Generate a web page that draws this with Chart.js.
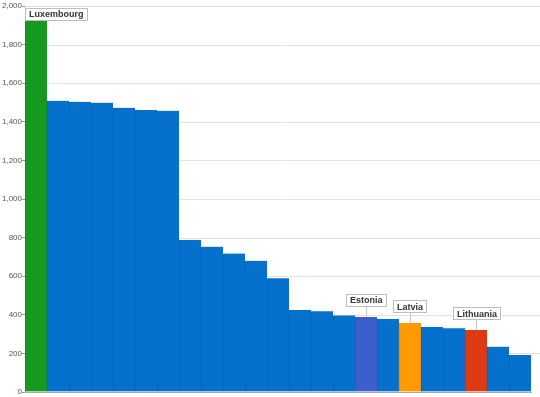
<!DOCTYPE html>
<html>
<head>
<meta charset="utf-8">
<script src="https://cdn.jsdelivr.net/npm/chart.js@4/dist/chart.umd.min.js"></script>
<style>
  html, body { margin:0; padding:0; background:#fff; }
  #wrap { width:540px; height:397px; position:relative; }
</style>
</head>
<body>
<div id="wrap"><canvas id="chart"></canvas></div>
<script>
/* ===== DATA ===== */
const countries = ['Luxembourg','Ireland','Netherlands','Belgium','Germany','France','United Kingdom',
  'Slovenia','Spain','Malta','Greece','Portugal','Poland','Croatia','Slovakia','Estonia',
  'Hungary','Latvia','Czech Republic','Turkey','Lithuania','Romania','Bulgaria'];
const values = [1922,1509,1504,1499,1473,1461,1457,
  788,753,717,680,589,425,418,397,389,
  378,357,337,330,321,235,192];
const highlighted = ['Luxembourg','Estonia','Latvia','Lithuania'];
const yTicks = [0,200,400,600,800,1000,1200,1400,1600,1800,2000];

/* ===== COLORS ===== */
const BLUE = '#0671cc', BLUE_EDGE = '#0462b3';
const special = { Luxembourg:'#16991f', Estonia:'#3d5fca', Latvia:'#ff9a00', Lithuania:'#dc3a14' };
const specialEdge = { Luxembourg:'#138a1b', Estonia:'#3754b5', Latvia:'#e88c00', Lithuania:'#c63312' };
const barColors = countries.map(c => special[c] || BLUE);
const edgeColors = countries.map(c => specialEdge[c] || BLUE_EDGE);

/* ===== PLUGINS ===== */
// horizontal grid, running from the axis to the right edge of the canvas
const gridFull = {
  id: 'gridFull',
  beforeDatasetsDraw(chart) {
    const { ctx, chartArea, scales: { y } } = chart;
    ctx.save();
    ctx.strokeStyle = '#e2e2e2';
    ctx.lineWidth = 1;
    yTicks.forEach(v => {
      if (v === 0) return;
      const py = Math.round(y.getPixelForValue(v)) + 0.5;
      ctx.beginPath();
      ctx.moveTo(chartArea.left, py);
      ctx.lineTo(chart.width, py);
      ctx.stroke();
    });
    ctx.restore();
  }
};

// callout labels above highlighted bars
const callouts = {
  id: 'callouts',
  afterDatasetsDraw(chart) {
    const { ctx, chartArea } = chart;
    const meta = chart.getDatasetMeta(0);
    ctx.save();
    ctx.font = 'bold 9px "Liberation Sans", Arial, sans-serif';
    ctx.textBaseline = 'middle';
    highlighted.forEach(name => {
      const i = countries.indexOf(name);
      const bar = meta.data[i];
      const tw = ctx.measureText(name).width;
      const bw = tw + 7, bh = 12;
      let bx = bar.x - bw / 2;
      if (bx < chartArea.left) bx = chartArea.left;
      let by = bar.y - 11 - bh;
      if (by < chartArea.top + 2) by = chartArea.top + 2;
      // leader line
      ctx.strokeStyle = '#c8c8c8';
      ctx.lineWidth = 1;
      ctx.beginPath();
      ctx.moveTo(Math.round(bar.x) + 0.5, by + bh);
      ctx.lineTo(Math.round(bar.x) + 0.5, bar.y);
      ctx.stroke();
      // box
      ctx.fillStyle = '#fff';
      ctx.fillRect(Math.round(bx), Math.round(by), Math.round(bw), bh);
      ctx.strokeStyle = '#bdbdbd';
      ctx.strokeRect(Math.round(bx) + 0.5, Math.round(by) + 0.5, Math.round(bw), bh);
      ctx.fillStyle = '#333';
      ctx.fillText(name, Math.round(bx) + 4, by + bh / 2 + 1);
    });
    ctx.restore();
  }
};

/* ===== CHART ===== */
new Chart(document.getElementById('chart'), {
  type: 'bar',
  data: {
    labels: countries,
    datasets: [{
      data: values,
      backgroundColor: barColors,
      borderColor: edgeColors,
      borderWidth: { left: 1, right: 0, top: 0, bottom: 0 },
      barPercentage: 1,
      categoryPercentage: 1
    }]
  },
  options: {
    responsive: true,
    maintainAspectRatio: false,
    animation: false,
    layout: { padding: { top: 6, right: 9, bottom: 5, left: 0 } },
    plugins: { legend: { display: false }, tooltip: { enabled: false } },
    scales: {
      x: {
        ticks: { display: false },
        grid: { display: false, drawTicks: false },
        border: { color: '#aaa' }
      },
      y: {
        min: 0, max: 2000,
        afterFit(s) { s.width = 25; },
        afterBuildTicks(s) { s.ticks = yTicks.map(v => ({ value: v })); },
        ticks: {
          font: { size: 8, family: '"Liberation Sans", Arial, sans-serif' },
          color: '#555',
          padding: 0,
          callback: v => v.toLocaleString('en-US')
        },
        grid: { drawOnChartArea: false, tickLength: 3, tickColor: '#999' },
        border: { display: true, color: '#ccc' }
      }
    }
  },
  plugins: [gridFull, callouts]
});
</script>
</body>
</html>
